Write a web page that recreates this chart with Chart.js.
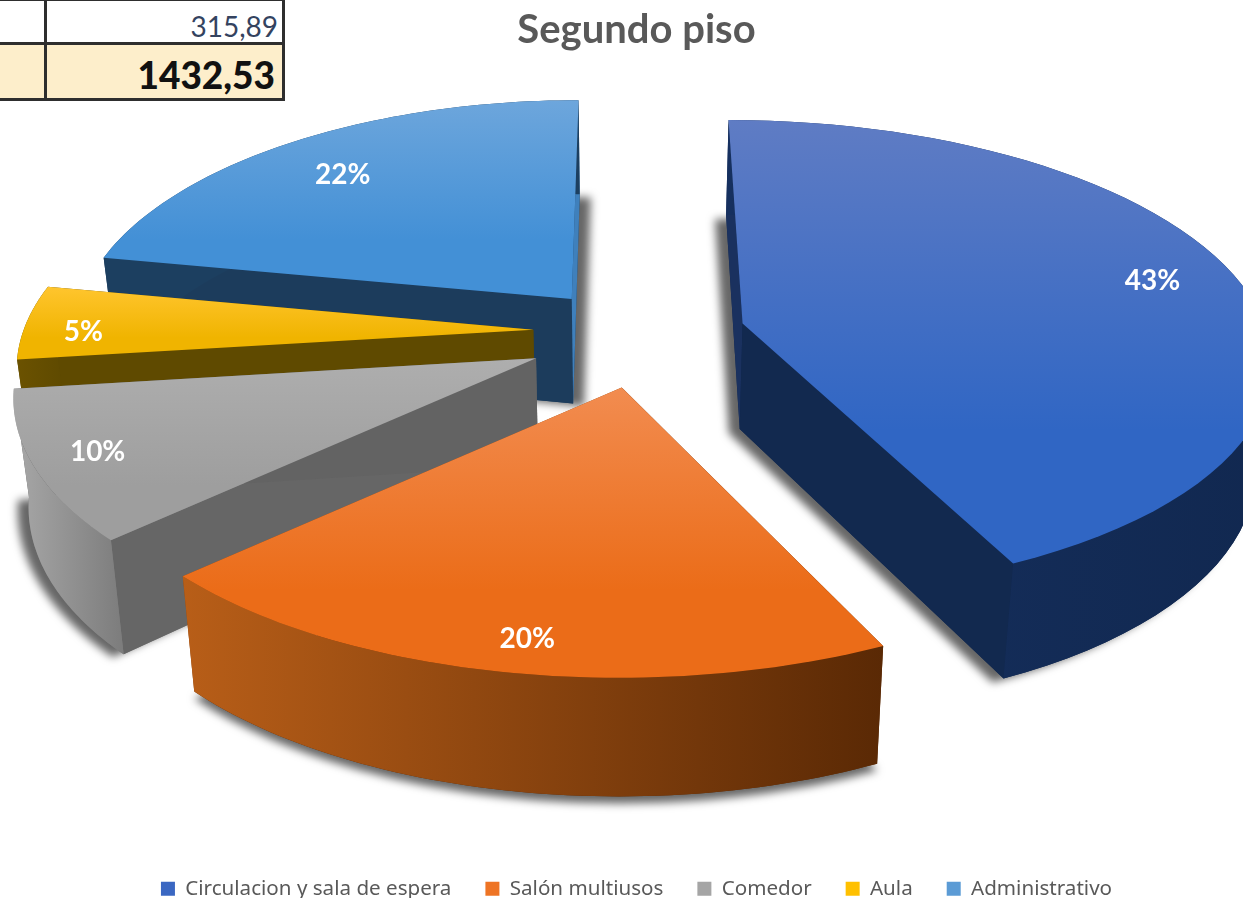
<!DOCTYPE html>
<html lang="es">
<head>
<meta charset="utf-8">
<title>Segundo piso</title>
<script src="https://cdn.jsdelivr.net/npm/chart.js@4"></script>
<style>
    html, body { margin: 0; padding: 0; background: #fff; overflow: hidden; }
    #wrap { position: relative; width: 1243px; height: 898px; }
    .cell { position: absolute; box-sizing: border-box; font-family: Lato, sans-serif; text-align: right; border: 3px solid #2e2e2e; }
    #cuts { position: absolute; left: 0; top: 0; width: 286px; height: 101px; background: #fff; }
</style>
</head>
<body>
<div id="wrap">
    <canvas id="main-chart" width="1243" height="898"></canvas>
    <div id="cuts">
        <div class="cell" style="left:-4px;top:-2px;width:51px;height:47px;"></div>
        <div class="cell" style="left:44px;top:-2px;width:241px;height:47px;padding:9px 4px 0 0;font-size:28px;line-height:32px;color:#34435f;">315,89</div>
        <div class="cell" style="left:-4px;top:42px;width:51px;height:59px;background:#fdeecb;"></div>
        <div class="cell" style="left:44px;top:42px;width:241px;height:59px;background:#fdeecb;padding:9px 7px 0 0;font-size:37px;line-height:42px;font-weight:900;color:#111;">1432,53</div>
    </div>
</div>
<script>
const categories = ['Circulacion y sala de espera', 'Salón multiusos', 'Comedor', 'Aula', 'Administrativo'];
const shares = [43, 20, 10, 5, 22];
const legendColors = ['#3a67c2', '#ee7424', '#a5a5a5', '#ffc000', '#5b9bd5'];
const explode = [0.225, 0.2, 0.18, 0.18, 0.18];

// look of each slice: top face gradient, rim wall gradient (left to right), radial walls, shadow of the base
const topShades = [['#5f7cc4', '#3066c4'], ['#f28c50', '#eb6c18'], ['#aeaeae', '#9e9e9e'], ['#ffc52e', '#f0b400'], ['#6da6dc', '#4390d6']];
const rimShades = [['#16305f', '#112850'], ['#b85e18', '#5a2905'], ['#a8a8a8', '#7c7c7c'], ['#6b5200', '#5f4a00'], ['#1c3f60', '#1c3f60']];
const startWalls = ['#1a315f', '#5a2905', '#666666', '#5f4a00', '#1c3c5c'];
const endWalls = ['#12294f', '#8a4510', '#636363', '#5f4a00', '#3f80bc'];
const shadowShift = [[-11, 4], [0, 7], [-11, 3], [0, 0], [11, 3]];

// hand fit of each slice against the picture, the pie is not a clean projection
const nudge = [[8, -5], [22, 0], [0, 0], [5, -9], [8, -9]];
const widen = [1.03, 1.03, 1, 1, 0.98];
const labelShift = [[-9, -1], [6, 16], [-16, 2], [-19, 9], [10, 12]];

// perspective of the tilted pie, in page pixels
const view = { cx: 620, cy: 340, kx: 510, ky: 235, tilt: 0.14, depth: 106 };

function project(x, y, low, i) {
    const w = 1 - view.tilt * y;
    let px = view.kx * x / w * widen[i];
    let py = view.ky * y / w;
    if (low) {
        px *= 0.975;
        py += view.depth * (1 + 0.1 * y);
    }
    return [view.cx + px + nudge[i][0], view.cy + py + nudge[i][1]];
}

function tracePath(ctx, points) {
    ctx.beginPath();
    points.forEach((p, i) => (i ? ctx.lineTo(p[0], p[1]) : ctx.moveTo(p[0], p[1])));
    ctx.closePath();
}

function hGradient(ctx, points, colors) {
    const xs = points.map(p => p[0]);
    const g = ctx.createLinearGradient(Math.min(...xs), 0, Math.max(...xs), 0);
    g.addColorStop(0, colors[0]);
    g.addColorStop(1, colors[1]);
    return g;
}

function vGradient(ctx, points, colors) {
    const ys = points.map(p => p[1]);
    const g = ctx.createLinearGradient(0, Math.min(...ys), 0, Math.max(...ys));
    g.addColorStop(0, colors[0]);
    g.addColorStop(0.7, colors[1]);
    g.addColorStop(1, colors[1]);
    return g;
}

const tiltedPie = {
    id: 'tiltedPie',
    beforeDatasetsDraw(chart) {
        const ctx = chart.ctx;
        const arcs = chart.getDatasetMeta(0).data;
        const labels = [];

        // back to front: the last slice sits furthest away
        for (let i = arcs.length - 1; i >= 0; i--) {
            const arc = arcs[i];
            const off = arc.options.offset / 100;
            const mid = (arc.startAngle + arc.endAngle) / 2;
            const ax = off * Math.cos(mid);
            const ay = off * Math.sin(mid);

            const rimFlat = [];
            for (let s = 0; s <= 60; s++) {
                const a = arc.startAngle + (arc.endAngle - arc.startAngle) * s / 60;
                rimFlat.push([ax + Math.cos(a), ay + Math.sin(a)]);
            }
            const top = rimFlat.map(p => project(p[0], p[1], false, i));
            const low = rimFlat.map(p => project(p[0], p[1], true, i));
            const apexTop = project(ax, ay, false, i);
            const apexLow = project(ax, ay, true, i);
            const face = [apexTop].concat(top);

            ctx.save();
            if (shadowShift[i][0] || shadowShift[i][1]) {
                ctx.save();
                ctx.shadowColor = 'rgba(0, 0, 0, 0.6)';
                ctx.shadowBlur = 9;
                ctx.shadowOffsetX = shadowShift[i][0];
                ctx.shadowOffsetY = shadowShift[i][1];
                tracePath(ctx, [apexLow].concat(low));
                ctx.fillStyle = rimShades[i][1];
                ctx.fill();
                ctx.restore();
            }

            tracePath(ctx, [apexTop, top[0], low[0], apexLow]);
            ctx.fillStyle = startWalls[i];
            ctx.fill();
            tracePath(ctx, [apexTop, top[60], low[60], apexLow]);
            ctx.fillStyle = endWalls[i];
            ctx.fill();

            const rim = top.concat(low.slice().reverse());
            tracePath(ctx, rim);
            ctx.fillStyle = hGradient(ctx, rim, rimShades[i]);
            ctx.fill();

            tracePath(ctx, face);
            ctx.fillStyle = vGradient(ctx, face, topShades[i]);
            ctx.fill();
            ctx.restore();

            const lx = ax + 0.85 * Math.cos(mid);
            const ly = ay + 0.85 * Math.sin(mid);
            const at = project(lx, ly, false, i);
            labels.push([shares[i] + '%', at[0] + labelShift[i][0], at[1] + labelShift[i][1]]);
        }

        ctx.save();
        ctx.fillStyle = '#fff';
        ctx.font = 'bold 28px Lato, sans-serif';
        ctx.textAlign = 'center';
        ctx.textBaseline = 'middle';
        labels.forEach(l => ctx.fillText(l[0], l[1], l[2]));
        ctx.restore();

        return false;
    }
};

document.addEventListener('DOMContentLoaded', function () {
    new Chart(document.getElementById('main-chart'), {
        type: 'pie',
        plugins: [tiltedPie],
        data: {
            labels: categories,
            datasets: [
                {
                    data: shares,
                    backgroundColor: legendColors,
                    borderWidth: 0,
                    offset: explode.map(e => e * 100)
                }
            ]
        },
        options: {
            responsive: false,
            animation: false,
            layout: {
                padding: { left: 30, top: 6, bottom: -11 }
            },
            plugins: {
                title: {
                    display: true,
                    text: 'Segundo piso',
                    color: '#595959',
                    font: { family: 'Lato, sans-serif', size: 40, weight: 'bold' },
                    padding: { top: 0, bottom: 10 }
                },
                legend: {
                    position: 'bottom',
                    labels: {
                        boxWidth: 14,
                        boxHeight: 14,
                        padding: 34,
                        color: '#595959',
                        font: { family: '"Noto Sans", sans-serif', size: 20.6 }
                    }
                },
                tooltip: { enabled: false }
            }
        }
    });
});
</script>
</body>
</html>
